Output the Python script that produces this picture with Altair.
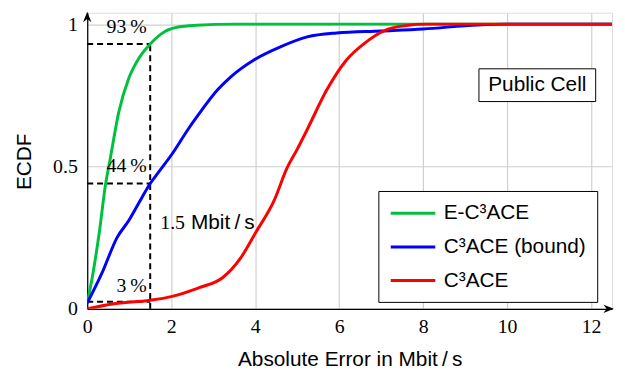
import altair as alt
import pandas as pd

# ---- data ----
series_names = ["E-C³ACE", "C³ACE (bound)", "C³ACE"]
series_colors = ["#00c040", "#0000ff", "#ff0000"]

green_x = [0, 0.12, 0.28, 0.44, 0.54, 0.75, 0.99, 1.23, 1.5, 1.86, 2.17, 2.6, 3.5, 12.5]
green_y = [0.02, 0.11, 0.26, 0.44, 0.52, 0.69, 0.81, 0.88, 0.93, 0.975, 0.99, 0.996, 1.0, 1.0]

blue_x = [0, 0.35, 0.71, 0.99, 1.3, 1.5, 1.7, 2.05, 2.4, 2.64, 3.11, 3.42, 3.98, 4.6,
          5.24, 5.94, 7.0, 8.0, 9.3, 10.0, 12.5]
blue_y = [0.02, 0.125, 0.25, 0.31, 0.39, 0.44, 0.48, 0.55, 0.63, 0.68, 0.77, 0.815, 0.875,
          0.92, 0.955, 0.969, 0.976, 0.983, 0.997, 1.0, 1.0]

red_x = [0, 0.6, 1.5, 2.0, 2.64, 3.23, 3.66, 4.0, 4.45, 4.76, 5.0, 5.24, 5.71, 6.18, 6.58,
         7.12, 7.6, 8.1, 12.5]
red_y = [0, 0.017, 0.03, 0.043, 0.073, 0.11, 0.18, 0.265, 0.38, 0.495, 0.56, 0.63, 0.77,
         0.875, 0.93, 0.98, 0.995, 1.0, 1.0]

threshold = 1.5
pct_values = [0.93, 0.44, 0.025]
pct_labels = ["93\u2009%", "44\u2009%", "3\u2009%"]
pct_label_y = [0.99, 0.50, 0.08]

x_ticks = [0, 2, 4, 6, 8, 10, 12]
y_ticks = [0, 0.5, 1]
x_max = 12.5
y_max = 1.04

unit = "Mbit\u2009/\u2009s"

rows = []
for name, xs, ys in zip(series_names, [green_x, blue_x, red_x], [green_y, blue_y, red_y]):
    for i, (xv, yv) in enumerate(zip(xs, ys)):
        rows.append({"series": name, "x": xv, "y": yv, "order": i})
df = pd.DataFrame(rows)

dash_df = pd.DataFrame(
    [{"x": 0, "x2": threshold, "y": v, "y2": v} for v in pct_values]
    + [{"x": threshold, "x2": threshold, "y": 0, "y2": pct_values[0]}]
)
pct_df = pd.DataFrame({"x": [1.42] * 3, "y": pct_label_y, "text": pct_labels})
thr_df = pd.DataFrame({"x": [1.74], "y": [0.30], "num": ["1.5"], "unit": [unit]})
box_df = pd.DataFrame({"x": [9.33], "x2": [12.11], "y": [0.728], "y2": [0.843],
                       "xc": [10.72], "yc": [0.787], "text": ["Public Cell"]})
arrow_x_df = pd.DataFrame({"x": [12.42], "y": [0]})
arrow_y_df = pd.DataFrame({"x": [0], "y": [1.025]})

xs = alt.Scale(domain=[0, x_max], nice=False, zero=False)
ys = alt.Scale(domain=[0, y_max], nice=False, zero=False)

x_axis = alt.Axis(values=x_ticks, grid=True, gridColor="#d0d0d0", gridWidth=1.2,
                  domainColor="black", domainWidth=1.2, ticks=False,
                  labelFont="Liberation Serif", labelFontSize=20, labelColor="black",
                  labelPadding=8, labelFlush=False,
                  title="Absolute Error in " + unit, titleFont="Liberation Sans",
                  titleFontSize=21, titleFontWeight="normal", titleColor="black",
                  titleY=51, titleBaseline="middle")
y_axis = alt.Axis(values=y_ticks, grid=True, gridColor="#d0d0d0", gridWidth=1.2,
                  domainColor="black", domainWidth=1.2, ticks=False, format="~g",
                  labelFont="Liberation Serif", labelFontSize=20, labelColor="black",
                  labelPadding=10, labelFlush=False,
                  title="ECDF", titleFont="Liberation Sans", titleFontSize=21,
                  titleFontWeight="normal", titleColor="black", titleAngle=-90,
                  titleX=-63, titleY=150, titleBaseline="middle", titleAlign="center")

dashes = alt.Chart(dash_df).mark_rule(strokeDash=[6, 4], strokeWidth=2, color="black").encode(
    x=alt.X("x:Q", scale=xs, axis=x_axis),
    x2="x2:Q",
    y=alt.Y("y:Q", scale=ys, axis=y_axis),
    y2="y2:Q",
)

lines = alt.Chart(df).mark_line(strokeWidth=3, clip=True, interpolate="monotone").encode(
    x=alt.X("x:Q", scale=xs),
    y=alt.Y("y:Q", scale=ys),
    order="order:Q",
    color=alt.Color("series:N",
                    scale=alt.Scale(domain=series_names, range=series_colors),
                    sort=series_names,
                    legend=alt.Legend(orient="none", legendX=294, legendY=180, title=None,
                                      symbolType="M-1,0H3.5", symbolSize=400,
                                      symbolStrokeWidth=3, labelFont="Liberation Sans",
                                      labelFontSize=21, labelColor="black", labelOffset=32,
                                      rowPadding=12, padding=11, strokeColor="black",
                                      fillColor="white", cornerRadius=0, labelLimit=300)),
)

pct_text = alt.Chart(pct_df).mark_text(align="right", baseline="middle",
                                       font="Liberation Serif", fontSize=20,
                                       color="black").encode(
    x=alt.X("x:Q", scale=xs), y=alt.Y("y:Q", scale=ys), text="text:N")

thr_num = alt.Chart(thr_df).mark_text(align="left", baseline="middle",
                                      font="Liberation Serif", fontSize=20,
                                      color="black").encode(
    x=alt.X("x:Q", scale=xs), y=alt.Y("y:Q", scale=ys), text="num:N")
thr_unit = alt.Chart(thr_df).mark_text(align="left", baseline="middle", dx=31,
                                       font="Liberation Sans", fontSize=21,
                                       color="black").encode(
    x=alt.X("x:Q", scale=xs), y=alt.Y("y:Q", scale=ys), text="unit:N")

box = alt.Chart(box_df).mark_rect(fill="white", stroke="black", strokeWidth=1).encode(
    x=alt.X("x:Q", scale=xs), x2="x2:Q", y=alt.Y("y:Q", scale=ys), y2="y2:Q")
box_text = alt.Chart(box_df).mark_text(align="center", baseline="middle",
                                       font="Liberation Sans", fontSize=21,
                                       color="black").encode(
    x=alt.X("xc:Q", scale=xs), y=alt.Y("yc:Q", scale=ys), text="text:N")

arrow_x = alt.Chart(arrow_x_df).mark_point(shape="M-1,-0.8L1,0L-1,0.8L-0.4,0Z", size=110,
                                           filled=True, color="black", opacity=1,
                                           clip=False).encode(
    x=alt.X("x:Q", scale=xs), y=alt.Y("y:Q", scale=ys))
arrow_y = alt.Chart(arrow_y_df).mark_point(shape="M-0.8,1L0,-1L0.8,1L0,0.4Z", size=110,
                                           filled=True, color="black", opacity=1,
                                           clip=False).encode(
    x=alt.X("x:Q", scale=xs), y=alt.Y("y:Q", scale=ys))

chart = alt.layer(dashes, lines, pct_text, thr_num, thr_unit, box, box_text,
                  arrow_x, arrow_y).properties(
    width=530, height=299,
    autosize=alt.AutoSizeParams(type="none"),
    padding={"left": 80, "top": 3, "right": 5, "bottom": 60},
).configure_view(stroke=None).configure(background="white")

chart.save("out.html", embed_options={"renderer": "svg", "actions": False})
